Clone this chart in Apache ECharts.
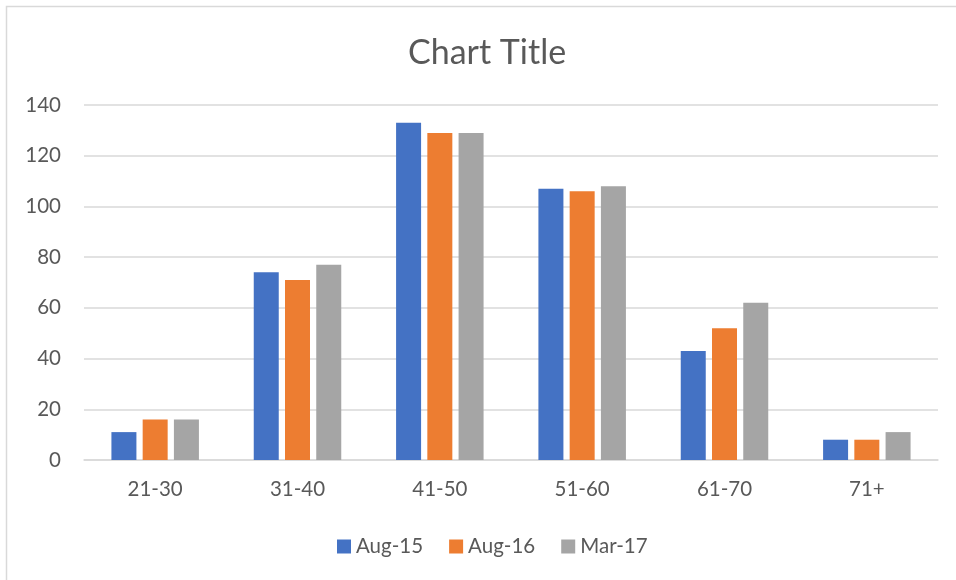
<!DOCTYPE html>
<html><head><meta charset="utf-8">
<script src="https://cdn.jsdelivr.net/npm/echarts@6/dist/echarts.min.js"></script>
<style>html,body{margin:0;padding:0;background:#fff}#c{width:956px;height:580px}</style>
</head><body><div id="c"></div>
<script>
const categories = ['21-30','31-40','41-50','51-60','61-70','71+'];
const aug15 = [11, 74, 133, 107, 43, 8];
const aug16 = [16, 71, 129, 106, 52, 8];
const mar17 = [16, 77, 129, 108, 62, 11];
const seriesNames = ['Aug-15','Aug-16','Mar-17'];
const colors = ['#4472C4','#ED7D31','#A5A5A5'];
const font = 'Lato, "Noto Sans", sans-serif';
const chart = echarts.init(document.getElementById('c'), null, {renderer:'canvas'});
chart.setOption({
  animation:false,
  backgroundColor:'#fff',
  color: colors,
  graphic:[{type:'rect', shape:{x:6.5,y:6.5,width:1000,height:1000}, style:{fill:'none',stroke:'#d9d9d9',lineWidth:1.5}, silent:true}],
  title:{text:'Chart Title', left:403, top:31, textStyle:{fontFamily:font, fontSize:34, fontWeight:'normal', color:'#595959'}},
  legend:{data:seriesNames, bottom:18, left:332, itemWidth:14, itemHeight:14, itemGap:26, icon:'rect',
    textStyle:{fontFamily:font, fontSize:20.5, color:'#595959'}},
  grid:{left:84, right:18, top:105, bottom:120, containLabel:false},
  xAxis:{type:'category', data:categories,
    axisLine:{lineStyle:{color:'#d9d9d9', width:1.5}}, axisTick:{show:false},
    axisLabel:{fontFamily:font, fontSize:20.5, color:'#595959', margin:19}},
  yAxis:{type:'value', min:0, max:140, interval:20,
    axisLine:{show:false}, axisTick:{show:false},
    splitLine:{lineStyle:{color:'#d9d9d9', width:1.5}},
    axisLabel:{fontFamily:font, fontSize:20.5, color:'#595959', margin:23}},
  series:[
    {name:seriesNames[0], type:'bar', data:aug15, barWidth:25, barGap:'25%'},
    {name:seriesNames[1], type:'bar', data:aug16, barWidth:25, barGap:'25%'},
    {name:seriesNames[2], type:'bar', data:mar17, barWidth:25, barGap:'25%'}
  ]
});
</script></body></html>
